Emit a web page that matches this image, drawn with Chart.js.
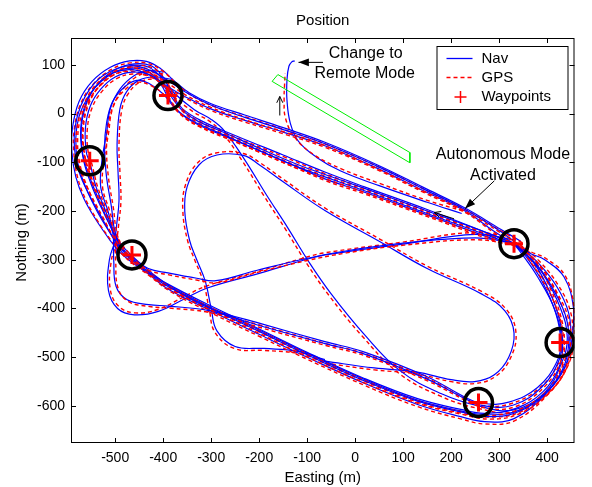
<!DOCTYPE html>
<html>
<head>
<meta charset="utf-8">
<title>Position</title>
<script src="https://cdn.jsdelivr.net/npm/chart.js@4.4.0/dist/chart.umd.min.js"></script>
<style>
  html, body { margin: 0; padding: 0; background: #fff; }
  #wrap { width: 592px; height: 487px; position: relative; }
</style>
</head>
<body>
<div id="wrap"><canvas id="posChart"></canvas></div>
<script>
// waypoints (easting, northing) in metres
const waypoints = [[-390, 37], [-553, -97], [-465, -290], [257, -593], [427, -470], [331, -267]];

// green corridor
const corridor = [[-161, 80], [114, -80], [114, -101], [-173, 66], [-161, 80]];

// laps round the course, Nav and GPS
const navA = [[335,-265],[300,-240],[229,-197],[141,-154],[50,-110],[-63,-62],[-150,-33],[-230,-8],[-302,18],[-350,42],[-390,68],[-425,88],[-460,98],[-495,93],[-528,76],[-553,50],[-572,15],[-583,-25],[-585,-70],[-575,-120],[-555,-165],[-530,-210],[-507,-250],[-485,-280],[-460,-305],[-420,-335],[-390,-355],[-300,-400],[-200,-447],[-100,-495],[18,-548],[130,-590],[220,-612],[280,-622],[340,-612],[395,-575],[432,-525],[445,-470],[440,-420],[418,-370],[385,-318],[350,-283],[330,-265]];
const gpsA = [[338,-268],[302,-244],[230,-201],[140,-158],[48,-114],[-62,-66],[-150,-37],[-232,-12],[-304,14],[-353,38],[-393,64],[-428,84],[-461,94],[-495,89],[-526,72],[-550,47],[-568,12],[-579,-27],[-581,-72],[-571,-121],[-551,-166],[-526,-212],[-503,-254],[-480,-284],[-456,-309],[-417,-339],[-387,-360],[-298,-405],[-198,-452],[-98,-500],[20,-553],[132,-595],[222,-617],[281,-627],[342,-616],[399,-578],[436,-527],[449,-471],[444,-419],[421,-368],[388,-315],[352,-280],[332,-262]];

const navB = [[331,-268],[290,-255],[150,-205],[18,-158],[-63,-130],[-124,-108],[-200,-76],[-273,-44],[-329,-20],[-365,2],[-388,30],[-405,60],[-430,80],[-465,85],[-500,75],[-530,50],[-552,15],[-562,-30],[-560,-80],[-553,-100],[-540,-150],[-520,-200],[-505,-245],[-503,-300],[-498,-355],[-475,-382],[-430,-392],[-390,-395],[-302,-405],[-200,-435],[-63,-472],[18,-493],[150,-545],[229,-585],[270,-600],[330,-598],[390,-560],[425,-505],[430,-460],[415,-400],[380,-335],[345,-285],[331,-268]];
const gpsB = [[334,-271],[292,-259],[152,-209],[20,-162],[-61,-134],[-122,-112],[-198,-80],[-271,-48],[-327,-24],[-362,-2],[-384,27],[-401,57],[-428,76],[-464,81],[-498,71],[-527,46],[-548,12],[-558,-32],[-556,-81],[-549,-102],[-536,-152],[-516,-203],[-501,-248],[-499,-302],[-494,-358],[-472,-386],[-428,-396],[-388,-399],[-300,-409],[-198,-439],[-61,-476],[20,-497],[152,-549],[231,-589],[271,-604],[332,-602],[393,-562],[429,-506],[434,-459],[419,-398],[384,-332],[348,-281],[333,-265]];

const navC = [[345,-262],[304,-238],[229,-194],[141,-151],[50,-107],[-63,-59],[-150,-29],[-230,-3],[-300,20],[-345,42],[-378,68],[-405,92],[-435,107],[-470,108],[-510,95],[-548,66],[-575,25],[-589,-30],[-590,-80],[-582,-130],[-565,-175],[-540,-218],[-512,-258],[-490,-285],[-465,-305],[-430,-330],[-390,-360],[-300,-405],[-200,-453],[-100,-500],[18,-553],[130,-597],[220,-622],[270,-632],[331,-626],[400,-572],[440,-515],[452,-460],[455,-400],[435,-335],[395,-300],[365,-287],[340,-272]];
const gpsC = [[348,-265],[306,-242],[231,-198],[143,-155],[52,-111],[-61,-63],[-148,-33],[-228,-7],[-298,16],[-343,38],[-375,64],[-402,88],[-433,103],[-469,104],[-507,91],[-544,62],[-571,22],[-585,-31],[-586,-81],[-578,-132],[-561,-177],[-536,-221],[-508,-261],[-486,-288],[-462,-309],[-427,-334],[-387,-364],[-298,-410],[-198,-458],[-98,-505],[20,-558],[132,-602],[222,-627],[271,-637],[333,-630],[404,-574],[444,-516],[456,-460],[456,-398],[437,-332],[397,-297],[367,-284],[341,-268]];

const navD = [[331,-268],[290,-258],[150,-208],[18,-161],[-63,-134],[-150,-97],[-250,-55],[-329,-22],[-370,5],[-400,40],[-430,62],[-455,68],[-480,55],[-505,25],[-518,-20],[-522,-70],[-518,-130],[-508,-190],[-500,-245],[-485,-280],[-465,-295],[-431,-318],[-390,-327],[-330,-338],[-290,-343],[-206,-322],[-104,-298],[-20,-282],[100,-266],[250,-255],[331,-266]];
const gpsD = [[334,-271],[292,-262],[152,-212],[20,-165],[-61,-138],[-148,-101],[-248,-59],[-327,-26],[-367,1],[-396,37],[-427,58],[-454,64],[-477,51],[-501,22],[-514,-22],[-518,-71],[-514,-131],[-504,-192],[-496,-247],[-481,-283],[-462,-299],[-429,-322],[-388,-331],[-328,-342],[-287,-347],[-204,-326],[-102,-302],[-18,-286],[102,-270],[252,-259],[333,-270]];

const navF = [[331,-267],[290,-242],[229,-200],[141,-158],[50,-114],[-63,-66],[-150,-38],[-230,-14],[-302,10],[-355,35],[-395,58],[-430,80],[-465,90],[-500,85],[-530,65],[-556,35],[-575,-5],[-582,-50],[-578,-100],[-562,-150],[-538,-200],[-512,-243],[-490,-275],[-465,-298],[-430,-325],[-390,-350],[-300,-395],[-200,-442],[-100,-490],[18,-543],[130,-585],[220,-607],[270,-615],[335,-605],[392,-570],[425,-520],[432,-470],[425,-420],[405,-365],[375,-310],[345,-278],[331,-267]];
const gpsF = [[334,-270],[292,-246],[231,-204],[143,-162],[52,-118],[-61,-70],[-148,-42],[-228,-18],[-300,6],[-352,31],[-392,54],[-427,76],[-464,86],[-499,81],[-527,61],[-552,32],[-571,-7],[-578,-51],[-574,-101],[-558,-151],[-534,-202],[-508,-246],[-486,-279],[-461,-302],[-427,-329],[-387,-355],[-297,-400],[-197,-447],[-97,-495],[21,-548],[132,-590],[222,-612],[271,-620],[337,-609],[396,-572],[429,-521],[436,-469],[429,-418],[408,-362],[378,-307],[347,-275],[332,-264]];

const navG = [[331,-267],[295,-252],[150,-200],[18,-153],[-63,-125],[-124,-103],[-200,-71],[-273,-39],[-329,-15],[-362,8],[-385,37],[-408,68],[-440,90],[-478,92],[-515,78],[-545,50],[-565,10],[-572,-40],[-566,-95],[-550,-145],[-528,-195],[-508,-235],[-488,-268],[-465,-292],[-420,-330],[-370,-365],[-302,-400],[-200,-430],[-63,-468],[18,-489],[150,-540],[229,-582],[265,-595],[320,-592],[380,-562],[420,-510],[428,-465],[418,-410],[390,-345],[355,-292],[331,-267]];
const gpsG = [[334,-270],[297,-256],[152,-204],[20,-157],[-61,-129],[-122,-107],[-198,-75],[-271,-43],[-327,-19],[-359,4],[-381,34],[-404,64],[-438,86],[-477,88],[-512,74],[-541,47],[-561,7],[-568,-42],[-562,-96],[-546,-147],[-524,-198],[-504,-238],[-484,-271],[-461,-296],[-417,-334],[-367,-369],[-300,-404],[-198,-434],[-61,-472],[20,-493],[152,-544],[231,-586],[266,-599],[322,-596],[383,-564],[424,-511],[432,-464],[422,-408],[393,-342],[357,-289],[333,-264]];

const navH = [[331,-267],[288,-250],[150,-197],[18,-150],[-63,-120],[-150,-85],[-250,-45],[-320,-15],[-360,10],[-382,40],[-400,75],[-425,98],[-460,102],[-500,90],[-535,62],[-558,25],[-570,-25],[-568,-80],[-555,-125],[-535,-175],[-515,-220],[-497,-258],[-475,-288],[-440,-318],[-390,-352],[-300,-398],[-200,-444],[-100,-492],[18,-545],[130,-588],[220,-610],[275,-618],[338,-610],[398,-572],[437,-520],[448,-465],[445,-410],[420,-355],[380,-305],[348,-278],[331,-267]];
const gpsH = [[334,-270],[290,-254],[152,-201],[20,-154],[-61,-124],[-148,-89],[-248,-49],[-318,-19],[-357,6],[-378,37],[-396,71],[-423,94],[-459,98],[-498,86],[-531,58],[-554,22],[-566,-27],[-564,-81],[-551,-127],[-531,-177],[-511,-223],[-493,-261],[-471,-292],[-437,-322],[-387,-357],[-297,-403],[-197,-449],[-97,-497],[21,-550],[132,-593],[222,-615],[276,-623],[340,-614],[402,-574],[441,-521],[452,-464],[449,-408],[423,-352],[383,-302],[350,-275],[332,-264]];

// short cut from the top down to the bottom waypoint
const navT = [[-470,100],[-430,95],[-400,70],[-375,40],[-335,8],[-300,-12],[-273,-35],[-230,-95],[-186,-165],[-140,-235],[-98,-302],[-50,-370],[18,-452],[94,-528],[180,-575],[257,-600],[330,-608],[395,-572],[430,-512],[442,-460],[428,-400],[392,-330],[356,-290],[331,-268]];
const gpsT = [[-470,96],[-431,91],[-403,66],[-378,36],[-338,4],[-303,-16],[-277,-39],[-234,-99],[-190,-169],[-144,-239],[-102,-306],[-54,-374],[14,-456],[91,-533],[178,-580],[256,-605],[331,-612],[398,-575],[434,-513],[446,-459],[432,-398],[395,-327],[358,-287],[333,-265]];

// inner oval
const navO = [[-63,-508],[40,-522],[127,-530],[200,-546],[249,-550],[290,-536],[320,-500],[331,-450],[312,-405],[263,-370],[150,-318],[50,-262],[-63,-199],[-150,-140],[-200,-105],[-233,-86],[-288,-85],[-325,-105],[-350,-150],[-355,-200],[-345,-260],[-330,-300],[-312,-345],[-300,-400],[-288,-446],[-250,-478],[-190,-482],[-120,-488],[-63,-505]];
const gpsO = [[-63,-512],[40,-526],[127,-534],[200,-550],[250,-554],[293,-539],[324,-501],[335,-449],[315,-402],[265,-366],[152,-314],[52,-258],[-61,-195],[-148,-136],[-198,-101],[-233,-82],[-290,-81],[-329,-102],[-354,-148],[-359,-200],[-349,-261],[-334,-301],[-316,-346],[-304,-402],[-292,-449],[-252,-482],[-190,-486],[-120,-492],[-63,-509]];

// lobe below waypoint 3 and crossing line back to waypoint 6
const navL = [[-500,-262],[-512,-300],[-514,-363],[-495,-400],[-460,-413],[-410,-406],[-355,-380],[-308,-358],[-200,-328],[-104,-300],[-63,-290],[100,-268],[250,-248],[335,-260]];
const gpsL = [[-496,-265],[-508,-302],[-510,-362],[-492,-396],[-459,-409],[-411,-402],[-357,-376],[-310,-354],[-202,-324],[-106,-296],[-65,-286],[98,-264],[248,-244],[333,-256]];

// tight turns inside the west end
const navI1 = [[-400,85],[-430,88],[-460,78],[-490,50],[-510,10],[-518,-41],[-528,-100],[-530,-152],[-515,-200],[-503,-245],[-490,-280],[-465,-300]];
const gpsI1 = [[-400,81],[-430,84],[-458,74],[-486,47],[-506,8],[-514,-42],[-524,-101],[-526,-153],[-511,-201],[-499,-247],[-487,-283],[-462,-304]];
const navI2 = [[-380,70],[-420,75],[-451,68],[-476,45],[-490,10],[-496,-62],[-494,-120],[-492,-179],[-497,-230],[-500,-265],[-496,-290]];
const gpsI2 = [[-380,66],[-419,71],[-449,64],[-472,42],[-486,8],[-492,-63],[-490,-121],[-488,-180],[-493,-231],[-496,-266],[-492,-292]];

// run up to the change to remote mode
const navR = [[222,-205],[150,-182],[50,-148],[-30,-118],[-80,-90],[-118,-57],[-135,-20],[-142,27],[-142,70],[-138,97],[-132,106],[-126,108]];
const gpsR = [[225,-200],[150,-178],[50,-143],[-30,-113],[-85,-85],[-125,-50],[-145,-10],[-148,30],[-147,60],[-146,82]];

const navPaths = [navA, navB, navC, navD, navF, navG, navH, navT, navO, navL, navI1, navI2, navR];
const gpsPaths = [gpsA, gpsB, gpsC, gpsD, gpsF, gpsG, gpsH, gpsT, gpsO, gpsL, gpsI1, gpsI2, gpsR];

const NAV_COLOR = '#0000ff';
const GPS_COLOR = '#ff0000';
const FONT = '"Liberation Sans", Arial, sans-serif';

const toPts = arr => arr.map(p => ({ x: p[0], y: p[1] }));

const datasets = [
  {
    label: 'Waypoints',
    data: toPts(waypoints),
    pointStyle: 'cross',
    pointRadius: 9,
    borderColor: GPS_COLOR,
    borderWidth: 3,
    showLine: false
  },
  {
    label: 'rings',
    data: toPts(waypoints),
    pointStyle: 'circle',
    pointRadius: 14,
    borderColor: '#000',
    backgroundColor: 'rgba(0,0,0,0)',
    borderWidth: 3.5,
    showLine: false
  },
  {
    label: 'corridor',
    data: toPts(corridor),
    showLine: true,
    borderColor: '#00ee00',
    borderWidth: 1,
    pointRadius: 0,
    tension: 0
  }
];

navPaths.forEach((nav, i) => {
  datasets.push({
    label: 'GPS',
    data: toPts(gpsPaths[i]),
    showLine: true,
    borderColor: GPS_COLOR,
    borderDash: [4, 3],
    borderWidth: 1.4,
    pointRadius: 0,
    tension: 0.4
  });
  datasets.push({
    label: 'Nav',
    data: toPts(nav),
    showLine: true,
    borderColor: NAV_COLOR,
    borderWidth: 1.2,
    pointRadius: 0,
    tension: 0.4
  });
});

function arrow(ctx, x1, y1, x2, y2, filled) {
  ctx.beginPath();
  ctx.moveTo(x1, y1);
  ctx.lineTo(x2, y2);
  ctx.stroke();
  const ang = Math.atan2(y2 - y1, x2 - x1);
  const len = filled ? 11 : 7;
  const w = filled ? 0.35 : 0.45;
  ctx.beginPath();
  ctx.moveTo(x2, y2);
  ctx.lineTo(x2 - len * Math.cos(ang - w), y2 - len * Math.sin(ang - w));
  if (filled) {
    ctx.lineTo(x2 - len * Math.cos(ang + w), y2 - len * Math.sin(ang + w));
    ctx.closePath();
    ctx.fill();
  } else {
    ctx.moveTo(x2, y2);
    ctx.lineTo(x2 - len * Math.cos(ang + w), y2 - len * Math.sin(ang + w));
    ctx.stroke();
  }
}

const overlay = {
  id: 'overlay',
  afterDraw(chart) {
    const { ctx, chartArea: a, scales: { x, y } } = chart;
    const px = v => x.getPixelForValue(v);
    const py = v => y.getPixelForValue(v);
    ctx.save();

    // box and inward ticks
    ctx.strokeStyle = '#000';
    ctx.lineWidth = 1;
    ctx.strokeRect(a.left + 0.5, a.top + 0.5, a.width - 1, a.height - 1);
    ctx.beginPath();
    x.ticks.forEach(t => {
      const p = Math.round(px(t.value)) + 0.5;
      ctx.moveTo(p, a.top); ctx.lineTo(p, a.top + 5);
      ctx.moveTo(p, a.bottom); ctx.lineTo(p, a.bottom - 5);
    });
    y.ticks.forEach(t => {
      const p = Math.round(py(t.value)) + 0.5;
      ctx.moveTo(a.left, p); ctx.lineTo(a.left + 5, p);
      ctx.moveTo(a.right, p); ctx.lineTo(a.right - 5, p);
    });
    ctx.stroke();

    // title and axis names
    ctx.fillStyle = '#000';
    ctx.font = '15px ' + FONT;
    ctx.textAlign = 'center';
    ctx.textBaseline = 'middle';
    ctx.fillText('Position', (a.left + a.right) / 2, 21);
    ctx.fillText('Easting (m)', (a.left + a.right) / 2, 478);
    ctx.save();
    ctx.translate(22, (a.top + a.bottom) / 2 + 2);
    ctx.rotate(-Math.PI / 2);
    ctx.fillText('Nothing (m)', 0, 0);
    ctx.restore();

    // annotations
    ctx.font = '16px ' + FONT;
    ctx.fillText('Change to', px(22), py(123));
    ctx.fillText('Remote Mode', px(20), py(82));
    ctx.fillText('Autonomous Mode', px(308), py(-84));
    ctx.fillText('Activated', px(308), py(-127));
    ctx.strokeStyle = '#000';
    ctx.fillStyle = '#000';
    ctx.lineWidth = 1;
    arrow(ctx, px(-67), py(105), px(-118), py(105), true);
    arrow(ctx, px(290), py(-138), px(229), py(-195), true);
    arrow(ctx, px(206), py(-216), px(165), py(-203), false);
    arrow(ctx, px(-157), py(-4), px(-157), py(35), false);

    // legend
    const lx = a.right - 138, ly = a.top + 8;
    ctx.fillStyle = '#fff';
    ctx.fillRect(lx, ly, 131, 63);
    ctx.strokeStyle = '#000';
    ctx.strokeRect(lx + 0.5, ly + 0.5, 131, 63);
    ctx.lineWidth = 1.3;
    ctx.beginPath();
    ctx.strokeStyle = NAV_COLOR;
    ctx.moveTo(lx + 10, ly + 12.5); ctx.lineTo(lx + 36, ly + 12.5);
    ctx.stroke();
    ctx.beginPath();
    ctx.strokeStyle = GPS_COLOR;
    ctx.setLineDash([4, 3]);
    ctx.moveTo(lx + 10, ly + 31.5); ctx.lineTo(lx + 37, ly + 31.5);
    ctx.stroke();
    ctx.setLineDash([]);
    ctx.lineWidth = 1.5;
    ctx.beginPath();
    ctx.moveTo(lx + 18, ly + 51); ctx.lineTo(lx + 30, ly + 51);
    ctx.moveTo(lx + 24, ly + 45); ctx.lineTo(lx + 24, ly + 57);
    ctx.stroke();
    ctx.fillStyle = '#000';
    ctx.font = '15px ' + FONT;
    ctx.textAlign = 'left';
    ctx.fillText('Nav', lx + 45, ly + 13);
    ctx.fillText('GPS', lx + 45, ly + 32);
    ctx.fillText('Waypoints', lx + 45, ly + 51);
    ctx.restore();
  }
};

new Chart(document.getElementById('posChart'), {
  type: 'scatter',
  data: { datasets },
  options: {
    responsive: true,
    maintainAspectRatio: false,
    animation: false,
    layout: { padding: { top: 38, right: 7, left: 0, bottom: 0 } },
    plugins: {
      legend: { display: false },
      tooltip: { enabled: false },
      title: { display: false }
    },
    scales: {
      x: {
        type: 'linear',
        min: -592,
        max: 457,
        afterFit: s => { s.height = 44; },
        grid: { display: false, drawTicks: false },
        border: { display: false },
        ticks: {
          stepSize: 100,
          includeBounds: false,
          maxRotation: 0,
          padding: 7,
          color: '#000',
          font: { family: FONT, size: 14 }
        }
      },
      y: {
        type: 'linear',
        min: -676,
        max: 155,
        afterFit: s => { s.width = 71; },
        grid: { display: false, drawTicks: false },
        border: { display: false },
        ticks: {
          stepSize: 100,
          includeBounds: false,
          padding: 6,
          color: '#000',
          font: { family: FONT, size: 14 }
        }
      }
    }
  },
  plugins: [overlay]
});
</script>
</body>
</html>
